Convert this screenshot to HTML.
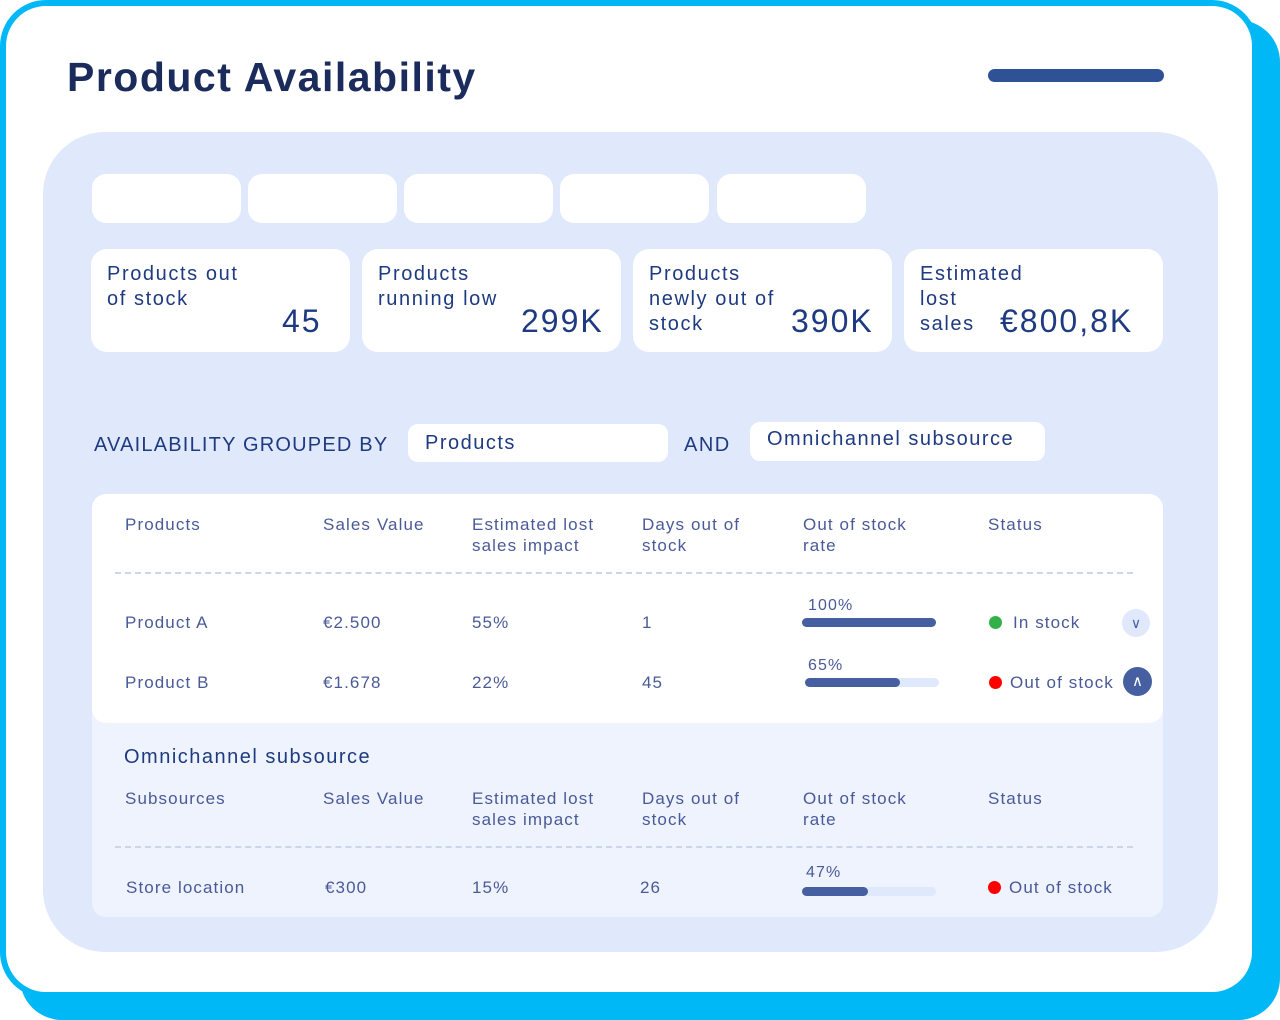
<!DOCTYPE html>
<html><head><meta charset="utf-8"><style>
*{margin:0;padding:0;box-sizing:border-box}
body{width:1280px;height:1020px;position:relative;background:#fff;font-family:"Liberation Sans",sans-serif;overflow:hidden}
.a{position:absolute;white-space:nowrap}
.shadow{left:20px;top:20px;width:1260px;height:1000px;background:#00b8f5;border-radius:42px}
.card{left:0;top:0;width:1258px;height:998px;background:#fff;border:6px solid #00b8f5;border-radius:46px}
.panel{left:43px;top:132px;width:1175px;height:820px;background:#e0e8fc;border-radius:62px}
.tab{top:174px;width:149px;height:49px;background:#fff;border-radius:14px}
.kpi{top:249px;width:259px;height:103px;background:#fff;border-radius:16px}
.kl{color:#1e3a80;font-size:20px;line-height:25px;letter-spacing:1.6px}
.kv{color:#1e3a80;font-size:32px;line-height:36px;letter-spacing:2px}
.h{color:#4a5a98;font-size:17px;line-height:21px;letter-spacing:1.1px}
.c{color:#4a5a98;font-size:17px;line-height:21px;letter-spacing:1.1px}
.dash{height:0;border-top:2px dashed #cdd5e8}
.bar{height:9px;background:#e0e8fc;border-radius:5px}
.fill{height:9px;background:#465fa0;border-radius:5px}
.dot{width:13px;height:13px;border-radius:50%}
</style></head><body>
<div class="a shadow"></div>
<div class="a card"></div>
<div class="a" style="left:67px;top:54px;font-size:41px;font-weight:bold;color:#1b2b5c;letter-spacing:1.5px">Product Availability</div>
<div class="a" style="left:988px;top:69px;width:176px;height:13px;background:#2f5196;border-radius:7px"></div>
<div class="a panel"></div>
<div class="a tab" style="left:92px"></div>
<div class="a tab" style="left:248px"></div>
<div class="a tab" style="left:404px"></div>
<div class="a tab" style="left:560px"></div>
<div class="a tab" style="left:717px"></div>

<div class="a kpi" style="left:91px"></div>
<div class="a kpi" style="left:362px"></div>
<div class="a kpi" style="left:633px"></div>
<div class="a kpi" style="left:904px"></div>
<div class="a kl" style="left:107px;top:262px">Products out<br>of stock</div>
<div class="a kv" style="left:282px;top:303px">45</div>
<div class="a kl" style="left:378px;top:262px">Products<br>running low</div>
<div class="a kv" style="left:521px;top:303px">299K</div>
<div class="a kl" style="left:649px;top:262px">Products<br>newly out of<br>stock</div>
<div class="a kv" style="left:791px;top:303px">390K</div>
<div class="a kl" style="left:920px;top:262px">Estimated<br>lost<br>sales</div>
<div class="a kv" style="left:1000px;top:303px">€800,8K</div>

<div class="a" style="left:94px;top:434px;font-size:20px;color:#1e3a80;letter-spacing:1.2px">AVAILABILITY GROUPED BY</div>
<div class="a" style="left:408px;top:424px;width:260px;height:38px;background:#fff;border-radius:10px"></div>
<div class="a" style="left:425px;top:432px;font-size:20px;color:#1e3a80;letter-spacing:1.5px">Products</div>
<div class="a" style="left:684px;top:434px;font-size:20px;color:#1e3a80;letter-spacing:1.5px">AND</div>
<div class="a" style="left:750px;top:422px;width:295px;height:39px;background:#fff;border-radius:10px"></div>
<div class="a" style="left:767px;top:428px;font-size:20px;color:#1e3a80;letter-spacing:1.5px">Omnichannel subsource</div>

<div class="a" style="left:92px;top:494px;width:1071px;height:423px;background:#eef3fe;border-radius:14px"></div>
<div class="a" style="left:92px;top:494px;width:1071px;height:229px;background:#fff;border-radius:14px"></div>

<div class="a h" style="left:125px;top:514px">Products</div>
<div class="a h" style="left:323px;top:514px">Sales Value</div>
<div class="a h" style="left:472px;top:514px">Estimated lost<br>sales impact</div>
<div class="a h" style="left:642px;top:514px">Days out of<br>stock</div>
<div class="a h" style="left:803px;top:514px">Out of stock<br>rate</div>
<div class="a h" style="left:988px;top:514px">Status</div>
<div class="a dash" style="left:115px;top:572px;width:1018px"></div>

<div class="a c" style="left:125px;top:612px">Product A</div>
<div class="a c" style="left:323px;top:612px">€2.500</div>
<div class="a c" style="left:472px;top:612px">55%</div>
<div class="a c" style="left:642px;top:612px">1</div>
<div class="a c" style="left:808px;top:595px;font-size:16px">100%</div>
<div class="a bar" style="left:802px;top:618px;width:134px"></div>
<div class="a fill" style="left:802px;top:618px;width:134px"></div>
<div class="a dot" style="left:989px;top:616px;background:#33b04a"></div>
<div class="a c" style="left:1013px;top:612px">In stock</div>
<div class="a" style="left:1122px;top:609px;width:28px;height:28px;border-radius:50%;background:#e0e8fc;color:#465fa0;font-size:14px;text-align:center;line-height:28px">&#8744;</div>

<div class="a c" style="left:125px;top:672px">Product B</div>
<div class="a c" style="left:323px;top:672px">€1.678</div>
<div class="a c" style="left:472px;top:672px">22%</div>
<div class="a c" style="left:642px;top:672px">45</div>
<div class="a c" style="left:808px;top:655px;font-size:16px">65%</div>
<div class="a bar" style="left:805px;top:678px;width:134px"></div>
<div class="a fill" style="left:805px;top:678px;width:95px"></div>
<div class="a dot" style="left:989px;top:676px;background:#f00"></div>
<div class="a c" style="left:1010px;top:672px">Out of stock</div>
<div class="a" style="left:1123px;top:667px;width:29px;height:29px;border-radius:50%;background:#465fa0;color:#fff;font-size:15px;text-align:center;line-height:29px">&#8743;</div>

<div class="a" style="left:124px;top:746px;font-size:20px;color:#1e3a80;letter-spacing:1.5px">Omnichannel subsource</div>
<div class="a h" style="left:125px;top:788px">Subsources</div>
<div class="a h" style="left:323px;top:788px">Sales Value</div>
<div class="a h" style="left:472px;top:788px">Estimated lost<br>sales impact</div>
<div class="a h" style="left:642px;top:788px">Days out of<br>stock</div>
<div class="a h" style="left:803px;top:788px">Out of stock<br>rate</div>
<div class="a h" style="left:988px;top:788px">Status</div>
<div class="a dash" style="left:115px;top:846px;width:1018px"></div>

<div class="a c" style="left:126px;top:877px">Store location</div>
<div class="a c" style="left:325px;top:877px">€300</div>
<div class="a c" style="left:472px;top:877px">15%</div>
<div class="a c" style="left:640px;top:877px">26</div>
<div class="a c" style="left:806px;top:862px;font-size:16px">47%</div>
<div class="a bar" style="left:802px;top:887px;width:134px"></div>
<div class="a fill" style="left:802px;top:887px;width:66px"></div>
<div class="a dot" style="left:988px;top:881px;background:#f00"></div>
<div class="a c" style="left:1009px;top:877px">Out of stock</div>
</body></html>
